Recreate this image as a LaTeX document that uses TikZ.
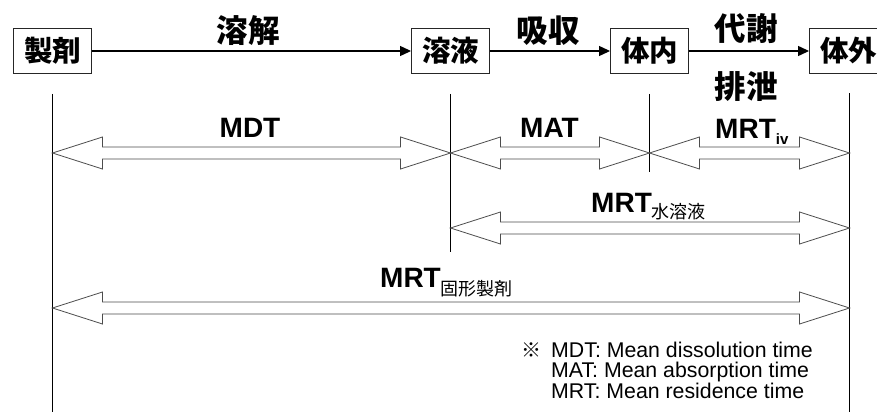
\documentclass[tikz,border=0pt]{standalone}
\usepackage{fontspec}
\setmainfont{Liberation Sans}
\newfontfamily\jp{Noto Sans CJK JP}
\usetikzlibrary{arrows.meta}
\tikzset{
  boxnode/.style={draw=black!85, line width=0.9pt, minimum width=78pt, minimum height=45pt, inner sep=0pt, font=\jp\bfseries\fontsize{28.5}{28.5}\selectfont},
  flow/.style={line width=1.2pt, -{Triangle[length=11pt,width=10pt]}},
  vline/.style={line width=0.9pt, black},
  blk/.style={draw=black!70, line width=0.8pt, fill=white, line join=miter},
  steplabel/.style={anchor=base, inner sep=0pt, font=\jp\bfseries\fontsize{31.5}{31.5}\selectfont},
  tlabel/.style={inner sep=0pt, font=\bfseries\fontsize{28}{28}\selectfont},
  legend/.style={anchor=base west, inner sep=0pt, font=\fontsize{21.3}{21.3}\selectfont}
}
\newcommand\blockarr[3]{%
  \draw[blk] (#1,#3) -- (#1+50,#3-16) -- (#1+50,#3-6) -- (#2-50,#3-6) -- (#2-50,#3-16) -- (#2,#3)
    -- (#2-50,#3+16) -- (#2-50,#3+6) -- (#1+50,#3+6) -- (#1+50,#3+16) -- cycle;}
\newcommand\jpsub[2]{{\raisebox{-#2pt}{\jp\mdseries\fontsize{18}{18}\selectfont #1}}}
\begin{document}
\begin{tikzpicture}[x=1pt,y=-1pt]
\useasboundingbox (0,0) rectangle (877,412);
% boxes
\node[boxnode] (seizai) at (52.5,51) {製剤};
\node[boxnode] (youeki) at (450.5,51) {溶液};
\node[boxnode] (tainai) at (649.5,51) {体内};
\node[boxnode] (taigai) at (848.5,51) {体外};
% flow arrows
\draw[flow] (seizai) -- (youeki);
\draw[flow] (youeki) -- (tainai);
\draw[flow] (tainai) -- (taigai);
\node[steplabel] (l1) at (248,43) {溶解};
\node[steplabel] (l2) at (548,43) {吸収};
\node[steplabel] (l3) at (746,41) {代謝};
\node[steplabel] (l4) at (746,98) {排泄};
% vertical lines
\coordinate (e1) at (52.5,412);
\coordinate (e2) at (450.5,252);
\coordinate (e3) at (649.5,172);
\coordinate (e4) at (849.5,412);
\draw[vline] ([yshift=-20pt]seizai.south) -- (e1);
\draw[vline] ([yshift=-20pt]youeki.south) -- (e2);
\draw[vline] ([yshift=-20pt]tainai.south) -- (e3);
\draw[vline] (849.5,93) -- (e4);
% block arrows
\blockarr{52.5}{450.5}{153}
\blockarr{450.5}{649.5}{153}
\blockarr{649.5}{849.5}{153}
\blockarr{450.5}{849.5}{228}
\blockarr{52.5}{849.5}{308}
% labels
\node[tlabel, anchor=base] (mdt) at (250,137) {MDT};
\node[tlabel, anchor=base] (mat) at (549.5,137) {MAT};
\node[tlabel, anchor=base west] (mrtiv) at (715,138) {MRT{\fontsize{15}{15}\selectfont\raisebox{-6pt}{iv}}};
\node[tlabel, anchor=base west] (mrtaq) at (591,212) {MRT\jpsub{水溶液}{6.5}};
\node[tlabel, anchor=base west] (mrtsol) at (380,287) {MRT\jpsub{固形製剤}{8.5}};
% legend
\node[anchor=base west, inner sep=0pt, font=\jp\fontsize{20}{20}\selectfont] (kome) at (521,357) {※};
\node[legend] (lg1) at (551,357) {MDT: Mean dissolution time};
\node[legend] (lg2) at (551,377.5) {MAT: Mean absorption time};
\node[legend] (lg3) at (551,398) {MRT: Mean residence time};
\end{tikzpicture}
\end{document}
